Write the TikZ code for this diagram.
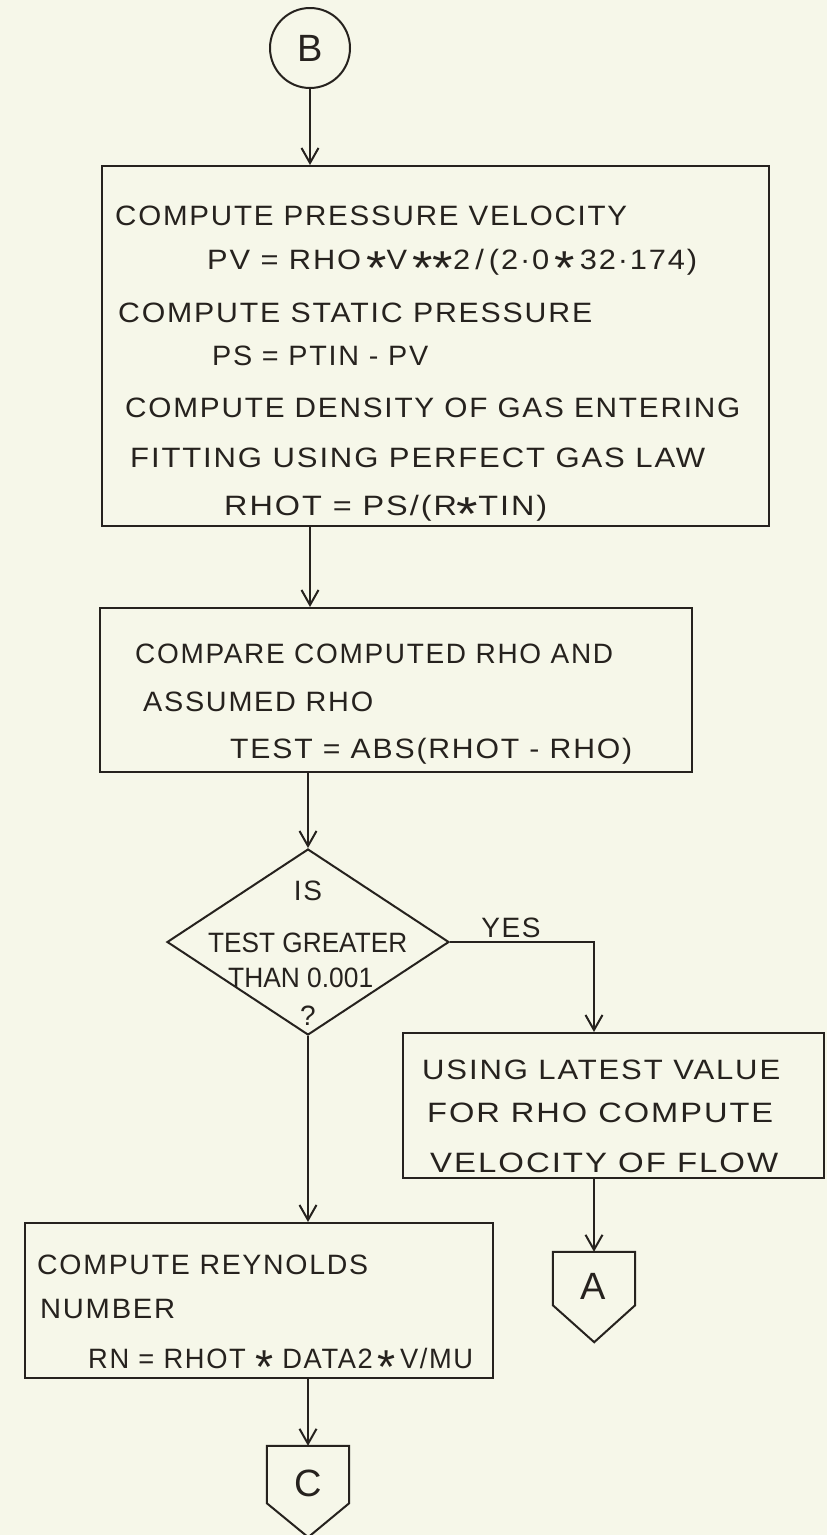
\documentclass[tikz,border=0pt]{standalone}
\usepackage{fontspec}
\usepackage{graphicx}
\setmainfont{Liberation Sans}
\newfontfamily\hand[LetterSpace=6]{Liberation Sans}
\newfontfamily\handn{Liberation Sans}
\usetikzlibrary{arrows.meta,shapes.geometric}
\definecolor{paper}{RGB}{246,247,233}
\definecolor{ink}{RGB}{38,34,30}
\newcommand\st{\raisebox{-0.55em}{\scalebox{1.7}{*}}}
\tikzset{
  lnk/.style={draw=ink, line width=2pt, -{Straight Barb[length=15pt,width=17pt]}},
  box/.style={draw=ink, line width=2pt, rectangle, inner sep=0pt},
  txt/.style={anchor=base west, inner sep=0pt, text=ink, font=\hand\fontsize{28}{30}\selectfont},
  ctxt/.style={anchor=base, inner sep=0pt, text=ink, font=\hand\fontsize{28}{30}\selectfont},
  big/.style={text=ink, font=\hand\fontsize{38}{40}\selectfont}
}
\newcommand\wl[5]{\node[txt] (#1) at (#2,#3) {\resizebox{#4pt}{\height}{#5}};}
\begin{document}
\begin{tikzpicture}[x=1pt,y=-1pt]
\fill[paper] (0,0) rectangle (827,1535);
\useasboundingbox (0,0) rectangle (827,1535);

% connector B
\node[draw=ink, circle, line width=2pt, minimum size=80pt, inner sep=0pt, big] (B) at (310,48) {B};

% boxes
\node[box, minimum width=667pt, minimum height=360pt] (b1) at (435.5,346) {};
\node[box, minimum width=592pt, minimum height=164pt] (b2) at (396,690) {};
\node[draw=ink, line width=2pt, diamond, inner sep=0pt, minimum width=282pt, minimum height=186pt] (D) at (308,942) {};
\node[box, minimum width=421pt, minimum height=145pt] (b4) at (613.5,1105.5) {};
\node[box, minimum width=468pt, minimum height=155pt] (b3) at (259,1300.5) {};

% off-page connectors
\node[inner sep=0pt, minimum width=82pt, minimum height=53pt] (A) at (594,1278.5) {};
\draw[ink, line width=2pt] (A.north west) -- (A.north east) -- (A.south east) -- ++(-41,37) -- (A.south west) -- cycle;
\node[big, anchor=center] (Alab) at (593,1286) {A};
\node[inner sep=0pt, minimum width=82pt, minimum height=57pt] (C) at (308,1474.5) {};
\draw[ink, line width=2pt] (C.north west) -- (C.north east) -- (C.south east) -- ++(-41,34) -- (C.south west) -- cycle;
\node[big, anchor=center] (Clab) at (308,1483) {C};

% texts box 1
\wl{t1}{115}{225}{512}{COMPUTE PRESSURE VELOCITY}
\wl{t2}{207}{269}{490}{PV = RHO\,\st V\,\st\st 2\,/\,(2·0\,\st\,32·174)}
\wl{t3}{118}{322}{474}{COMPUTE STATIC PRESSURE}
\wl{t4}{212}{365}{216}{PS = PTIN - PV}
\wl{t5}{125}{417}{615}{COMPUTE DENSITY OF GAS ENTERING}
\wl{t6}{130}{467}{575}{FITTING USING PERFECT GAS LAW}
\wl{t7}{224}{515}{323}{RHOT = PS/(R\st TIN)}
% texts box 2
\wl{t8}{135}{663}{478}{COMPARE COMPUTED RHO AND}
\wl{t9}{143}{711}{230}{ASSUMED RHO}
\wl{t10}{230}{758}{402}{TEST = ABS(RHOT - RHO)}
% diamond
\node[ctxt] (d1) at (308,900) {IS};
\wl{d2}{208}{952}{199}{\handn TEST GREATER}
\wl{d3}{228}{987}{145}{\handn THAN 0.001}
\node[ctxt] (d4) at (308,1025) {?};
\node[ctxt] (yes) at (511,937) {YES};
% box 4
\wl{u1}{422}{1079}{358}{USING LATEST VALUE}
\wl{u2}{427}{1122}{346}{FOR RHO COMPUTE}
\wl{u3}{430}{1172}{348}{VELOCITY OF FLOW}
% box 3
\wl{r1}{37}{1274}{331}{COMPUTE REYNOLDS}
\wl{r2}{40}{1318}{135}{NUMBER}
\wl{r3}{88}{1368}{385}{RN = RHOT \st\ DATA2\,\st\,V/MU}

% connectors
\draw[lnk] (B) -- (b1.north -| B);
\draw[lnk] (b1.south -| B) -- (b2.north -| B);
\draw[lnk] (b2.south -| D) -- (D.north);
\draw[lnk] (D.south) -- (b3.north -| D);
\draw[lnk] (D.east) -| (b4.north -| A);
\draw[lnk] (b4.south -| A) -- (A.north);
\draw[lnk] (b3.south -| C) -- (C.north);
\end{tikzpicture}
\end{document}
